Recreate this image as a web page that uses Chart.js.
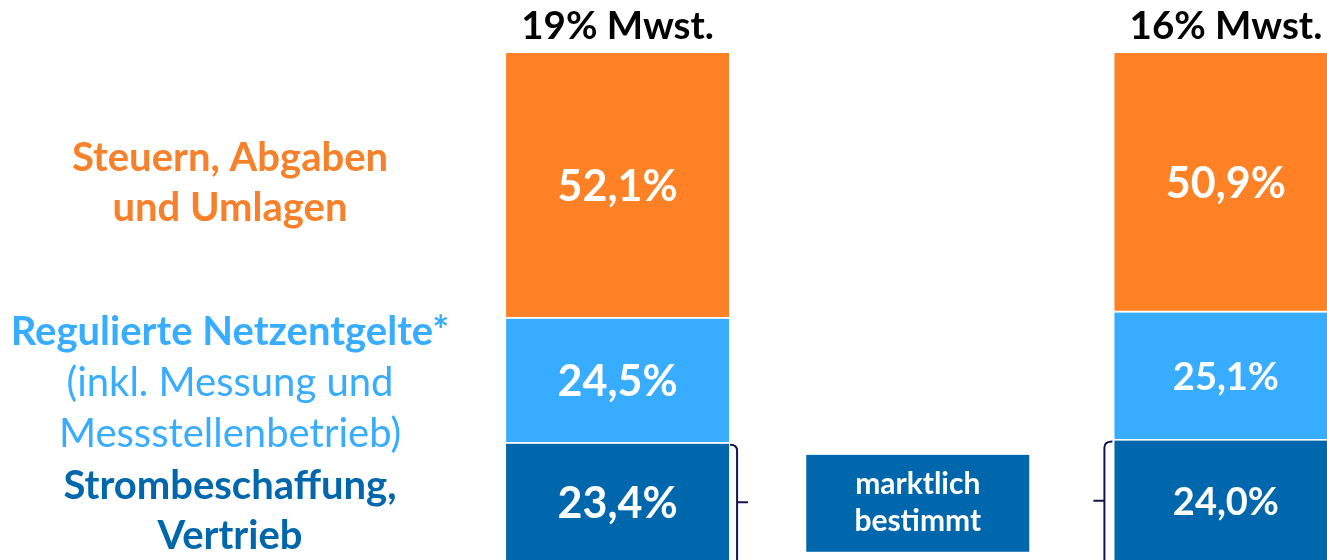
<!DOCTYPE html>
<html>
<head>
<meta charset="utf-8">
<script src="https://cdn.jsdelivr.net/npm/chart.js@4.4.0/dist/chart.umd.min.js"></script>
<style>
  html, body { margin: 0; padding: 0; background: #fff; overflow: hidden; }
  #wrap { position: relative; width: 1378px; height: 563px; }
</style>
</head>
<body>
<div id="wrap"><canvas id="chart"></canvas></div>
<script>
// ── data ──────────────────────────────
const categories = ["19% Mwst.", "", "16% Mwst."];
const strom      = [23.4, null, 24.0];   // Strombeschaffung, Vertrieb
const netz       = [24.5, null, 25.1];   // Regulierte Netzentgelte
const steuern    = [52.1, null, 50.9];   // Steuern, Abgaben und Umlagen

const steuernText = ["Steuern, Abgaben", "und Umlagen"];
const netzText    = ["Regulierte Netzentgelte*", "(inkl. Messung und", "Messstellenbetrieb)"];
const stromText   = ["Strombeschaffung,", "Vertrieb"];
const boxText     = ["marktlich", "bestimmt"];

// ── styles ────────────────────────────
const FONT   = "Lato, 'Open Sans', sans-serif";
const ORANGE = "#ff8125";
const LIGHT  = "#38acff";
const DARK   = "#0067ad";
const NAVY   = "#16144f";

const fmt = v => v.toFixed(1).replace(".", ",") + "%";

function seg(chart, dsIndex, i) {
  const el = chart.getDatasetMeta(dsIndex).data[i];
  const p = el.getProps(["x", "y", "base", "width"], true);
  return { x: p.x, top: Math.min(p.y, p.base), bottom: Math.max(p.y, p.base), w: p.width,
           mid: (p.y + p.base) / 2 };
}

function textLines(ctx, lines, x, baselines, fonts, color) {
  ctx.fillStyle = color;
  ctx.textAlign = "center";
  ctx.textBaseline = "alphabetic";
  lines.forEach((t, k) => {
    ctx.font = fonts[k];
    ctx.fillText(t, x, baselines[k]);
  });
}

const overlay = {
  id: "overlay",
  afterDatasetsDraw(chart) {
    const ctx = chart.ctx;
    ctx.save();

    // values inside the bars
    const sizes = [[43, 38], [43, 38], [43, 43]];
    [strom, netz, steuern].forEach((arr, d) => {
      arr.forEach((v, i) => {
        if (v == null) return;
        const s = seg(chart, d, i);
        ctx.font = `bold ${i === 0 ? sizes[d][0] : sizes[d][1]}px ${FONT}`;
        ctx.fillStyle = "#fff";
        ctx.textAlign = "center";
        ctx.textBaseline = "middle";
        ctx.fillText(fmt(v), s.x, s.mid + 1);
      });
    });

    // labels on the left
    const lx = 230;
    const b = `bold 40px ${FONT}`, r = `40px ${FONT}`;
    const sO = seg(chart, 2, 0), sL = seg(chart, 1, 0), sD = seg(chart, 0, 0);
    textLines(ctx, steuernText, lx, [sO.mid - 15, sO.mid + 35], [b, b], "#f7812b");
    textLines(ctx, netzText.slice(0, 1), lx, [sL.mid - 36], [b], LIGHT);
    textLines(ctx, netzText.slice(1), lx, [sL.mid + 15, sL.mid + 66], [r, r], LIGHT);
    textLines(ctx, stromText, lx, [sD.mid - 4, sD.mid + 46], [b, b], DARK);

    // brackets
    ctx.strokeStyle = NAVY;
    ctx.lineWidth = 2;
    const d1 = seg(chart, 0, 0);
    const bx1 = d1.x + d1.w / 2 + 8;
    ctx.beginPath();
    ctx.moveTo(bx1 - 7, d1.top + 1);
    ctx.quadraticCurveTo(bx1, d1.top + 1, bx1, d1.top + 7);
    ctx.lineTo(bx1, d1.bottom + 20);
    ctx.moveTo(bx1, d1.mid - 1);
    ctx.lineTo(bx1 + 11, d1.mid - 1);
    ctx.stroke();

    const d2 = seg(chart, 0, 2);
    const bx2 = d2.x - d2.w / 2 - 10;
    ctx.beginPath();
    ctx.moveTo(bx2 + 8, d2.top + 1);
    ctx.quadraticCurveTo(bx2, d2.top + 1, bx2, d2.top + 7);
    ctx.lineTo(bx2, d2.bottom + 20);
    ctx.moveTo(bx2, d2.mid - 1);
    ctx.lineTo(bx2 - 11, d2.mid - 1);
    ctx.stroke();

    // "marktlich bestimmt" box in the middle slot
    const xs = chart.scales.x, ys = chart.scales.y;
    const cx = xs.getPixelForValue(1) - 4;
    const top = ys.getPixelForValue(21.2), bot = ys.getPixelForValue(2.2);
    ctx.fillStyle = DARK;
    ctx.fillRect(cx - 111.5, top, 223, bot - top);
    const cy = (top + bot) / 2;
    textLines(ctx, boxText, cx, [cy - 9, cy + 28], [`bold 30px ${FONT}`, `bold 30px ${FONT}`], "#fff");

    ctx.restore();
  }
};

const mkDS = (label, data, color) => ({
  label, data,
  backgroundColor: color,
  borderColor: "#fff",
  borderWidth: { top: 0, right: 0, bottom: 2, left: 0 },
  borderSkipped: false,
  barThickness: 223
});

new Chart(document.getElementById("chart"), {
  type: "bar",
  data: {
    labels: categories,
    datasets: [
      mkDS("Strombeschaffung, Vertrieb", strom, DARK),
      mkDS("Regulierte Netzentgelte", netz, LIGHT),
      mkDS("Steuern, Abgaben und Umlagen", steuern, ORANGE)
    ]
  },
  options: {
    responsive: true,
    maintainAspectRatio: false,
    animation: false,
    layout: { padding: { left: 465.5, right: 0, top: 0, bottom: 0 } },
    plugins: { legend: { display: false }, tooltip: { enabled: false } },
    scales: {
      x: {
        position: "top",
        stacked: true,
        grid: { display: false, drawTicks: false },
        border: { display: false },
        ticks: {
          color: "#000",
          padding: 4.5,
          maxRotation: 0,
          font: { family: FONT, weight: "bold", size: 38.5, lineHeight: 1.14 }
        }
      },
      y: { display: false, stacked: true, min: 0, max: 100 }
    }
  },
  plugins: [overlay]
});
</script>
</body>
</html>
